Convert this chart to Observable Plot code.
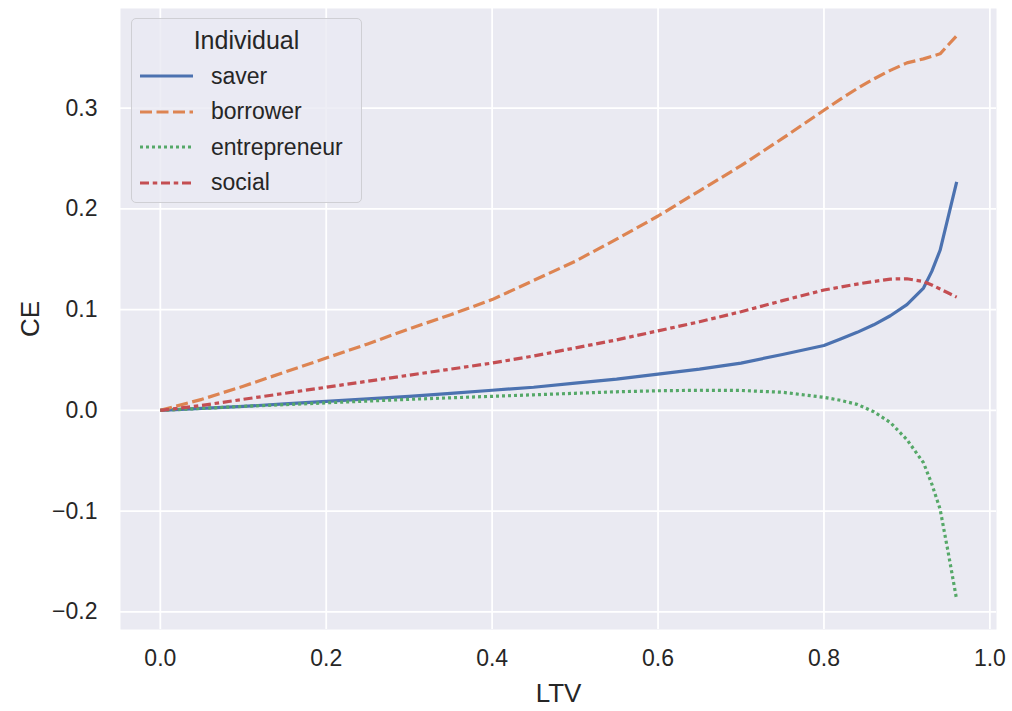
<!DOCTYPE html>
<html>
<head>
<meta charset="utf-8">
<script src="https://cdn.jsdelivr.net/npm/d3@7"></script>
<script src="https://cdn.jsdelivr.net/npm/@observablehq/plot@0.6"></script>
<style>
  body { margin: 0; background: white; }
  #wrap { position: relative; width: 1012px; height: 711px; font-family: "Liberation Sans", Arial, sans-serif; color: #262626; }
  #legend { position: absolute; left: 131px; top: 18px; width: 229px; height: 183px; border: 1px solid #cfcfd4; border-radius: 5px; background: rgba(234,234,242,0.8); }
  #legend .title { position: absolute; left: 0; width: 100%; top: 7px; text-align: center; font-size: 25px; }
  #legend .row { position: absolute; left: 8px; height: 30px; display: flex; align-items: center; font-size: 23px; }
  #legend .row svg { width: 53px; height: 10px; margin-right: 18px; }
</style>
</head>
<body>
<div id="wrap">
  <div id="chart"></div>
  <div id="legend"></div>
</div>
<script>
// LTV grid
const ltv = [0, 0.05, 0.10, 0.15, 0.20, 0.25, 0.30, 0.35, 0.40, 0.45, 0.50, 0.55, 0.60, 0.65, 0.70, 0.75, 0.80, 0.82, 0.84, 0.86, 0.88, 0.90, 0.92, 0.93, 0.94, 0.95, 0.96];
const saver = [0, 0.002, 0.004, 0.0065, 0.009, 0.0115, 0.014, 0.017, 0.020, 0.023, 0.027, 0.031, 0.036, 0.041, 0.047, 0.0555, 0.0645, 0.071, 0.0775, 0.085, 0.094, 0.105, 0.1215, 0.138, 0.159, 0.193, 0.227];
const borrower = [0, 0.011, 0.024, 0.038, 0.052, 0.066, 0.081, 0.095, 0.110, 0.129, 0.148, 0.170, 0.193, 0.218, 0.243, 0.270, 0.298, 0.309, 0.3195, 0.329, 0.3376, 0.345, 0.349, 0.3515, 0.354, 0.363, 0.372];
const entrepreneur = [0, 0.002, 0.004, 0.0057, 0.0075, 0.0093, 0.011, 0.0125, 0.014, 0.0155, 0.017, 0.0185, 0.0195, 0.020, 0.0198, 0.018, 0.013, 0.010, 0.006, -0.0013, -0.012, -0.029, -0.052, -0.073, -0.098, -0.142, -0.188];
const social = [0, 0.005, 0.011, 0.017, 0.023, 0.029, 0.035, 0.041, 0.047, 0.054, 0.062, 0.070, 0.079, 0.088, 0.098, 0.109, 0.1195, 0.1225, 0.1254, 0.128, 0.1304, 0.1307, 0.128, 0.1245, 0.1205, 0.1165, 0.1125];

const seriesNames = ["saver", "borrower", "entrepreneur", "social"];
const seriesValues = [saver, borrower, entrepreneur, social];
const seriesColors = ["#4C72B0", "#DD8452", "#55A868", "#C44E52"];
const seriesDash = [null, "12,4.5", "3,3", "9,3.75,4.5,3.75"];

const xTicks = [0, 0.2, 0.4, 0.6, 0.8, 1.0];
const yTicks = [-0.2, -0.1, 0, 0.1, 0.2, 0.3];

const fmt = d3.format(".1f");

const lineMarks = seriesNames.map((name, i) =>
  Plot.line(ltv.map((x, j) => ({LTV: x, CE: seriesValues[i][j]})), {
    x: "LTV", y: "CE",
    stroke: seriesColors[i],
    strokeWidth: 3.2,
    strokeDasharray: seriesDash[i] || undefined,
    strokeLinecap: "butt",
    curve: "linear"
  })
);

const chart = Plot.plot({
  width: 1012,
  height: 711,
  marginLeft: 120,
  marginRight: 16,
  marginTop: 8,
  marginBottom: 82,
  style: { fontFamily: "'Liberation Sans', Arial, sans-serif", fontSize: "23px", color: "#262626", background: "white" },
  x: { domain: [-0.048, 1.008], label: "LTV", labelArrow: "none" },
  y: { domain: [-0.2175, 0.399], label: "CE", labelArrow: "none" },
  marks: [
    Plot.frame({ fill: "#EAEAF2", stroke: null }),
    Plot.gridX(xTicks, { stroke: "white", strokeOpacity: 1, strokeWidth: 1.8 }),
    Plot.gridY(yTicks, { stroke: "white", strokeOpacity: 1, strokeWidth: 1.8 }),
    ...lineMarks,
    Plot.axisX(xTicks, { tickSize: 0, tickPadding: 20, tickFormat: fmt, fontSize: 23, label: "LTV", labelArrow: "none", labelAnchor: "center", labelOffset: 72 }),
    Plot.axisY(yTicks, { tickSize: 0, tickPadding: 23, tickFormat: fmt, fontSize: 23, label: "CE", labelArrow: "none", labelAnchor: "center", labelOffset: 100 })
  ]
});
d3.select(chart).selectAll("[aria-label='x-axis label'] text, [aria-label='y-axis label'] text")
  .style("font-size", "26px")
  .each(function () {
    const t = this.textContent.replace(/\s*[→↑←↓]\s*/g, "").trim();
    this.textContent = t;
  });
document.getElementById("chart").appendChild(chart);

// legend
const legend = document.getElementById("legend");
const title = document.createElement("div");
title.className = "title";
title.textContent = "Individual";
legend.appendChild(title);
seriesNames.forEach((name, i) => {
  const row = document.createElement("div");
  row.className = "row";
  row.style.top = (42 + i * 35.5) + "px";
  const dash = seriesDash[i] ? `stroke-dasharray="${seriesDash[i]}"` : "";
  row.innerHTML = `<svg viewBox="0 0 53 10"><line x1="0" y1="5" x2="53" y2="5" stroke="${seriesColors[i]}" stroke-width="3.2" ${dash}/></svg><span>${name}</span>`;
  legend.appendChild(row);
});
</script>
</body>
</html>
